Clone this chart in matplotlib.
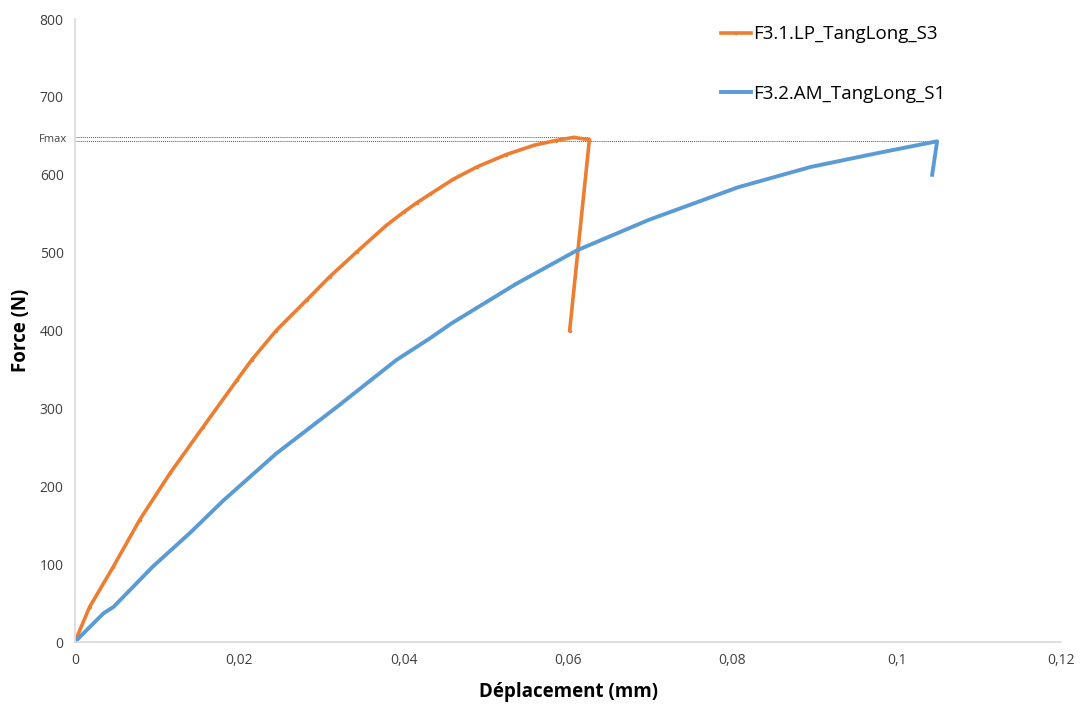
import numpy as np
import matplotlib.pyplot as plt

plt.rcParams['font.family'] = ['Open Sans', 'DejaVu Sans']

# F3.1.LP_TangLong_S3 (orange)
x_lp = [0, 0.0018, 0.0047, 0.0079, 0.0116, 0.0156, 0.0197, 0.0215, 0.0245,
        0.0282, 0.0310, 0.0343, 0.0379, 0.0400, 0.0416, 0.0432, 0.0460, 0.0489,
        0.0525, 0.0559, 0.0585, 0.0607, 0.0626, 0.0602]
y_lp = [0, 45, 97, 157, 217, 276, 336, 362, 400,
        439, 469, 501, 535, 552, 564, 575, 594, 610,
        626, 638, 644, 648, 645, 400]

# F3.2.AM_TangLong_S1 (blue)
x_am = [0, 0.0035, 0.0047, 0.0095, 0.0140, 0.0181, 0.0245, 0.0319, 0.0391,
        0.0432, 0.0458, 0.0537, 0.0611, 0.0698, 0.0807, 0.0895, 0.0982,
        0.1049, 0.1043]
y_am = [0, 37, 45, 97, 140, 182, 242, 302, 362,
        390, 409, 460, 503, 542, 584, 610, 629,
        643, 600]

fmax_lp = 648
fmax_am = 643

fig = plt.figure(figsize=(10.84, 7.04), dpi=100)
ax = fig.add_axes([0.069, 0.088, 0.910, 0.885])

ax.plot([0, x_lp[-2]], [fmax_lp, fmax_lp], color='#555555', lw=0.7, ls=(0, (1, 1)))
ax.plot([0, x_am[-2]], [fmax_am, fmax_am], color='#555555', lw=0.7, ls=(0, (1, 1)))

ax.plot(x_lp, y_lp, color='#ED7D31', lw=2.6, marker='.', markersize=3,
        label='F3.1.LP_TangLong_S3')
ax.plot(x_am, y_am, color='#5B9BD5', lw=2.8, label='F3.2.AM_TangLong_S1')

ax.set_xlim(0, 0.12)
ax.set_ylim(0, 800)
ax.set_xticks(np.arange(0, 0.121, 0.02))
ax.set_xticklabels(['0', '0,02', '0,04', '0,06', '0,08', '0,1', '0,12'])
ax.set_yticks(range(0, 801, 100))
ax.tick_params(length=0, labelsize=10, colors='#404040', pad=8)
ax.text(-0.0009, 645, 'Fmax', fontsize=8, ha='right', va='center', color='#404040')

for s in ['top', 'right']:
    ax.spines[s].set_visible(False)
for s in ['left', 'bottom']:
    ax.spines[s].set_color('#D9D9D9')
    ax.spines[s].set_linewidth(1.2)

ax.set_xlabel('Déplacement (mm)', fontsize=13.5, fontweight='bold', labelpad=10)
ax.set_ylabel('Force (N)', fontsize=13.5, fontweight='bold', labelpad=6)

ax.legend(loc='upper left', bbox_to_anchor=(0.638, 1.017), frameon=False,
          fontsize=13.5, labelspacing=2.2, handlelength=1.6, handletextpad=0.1)

fig.savefig('out.png', dpi=100)
